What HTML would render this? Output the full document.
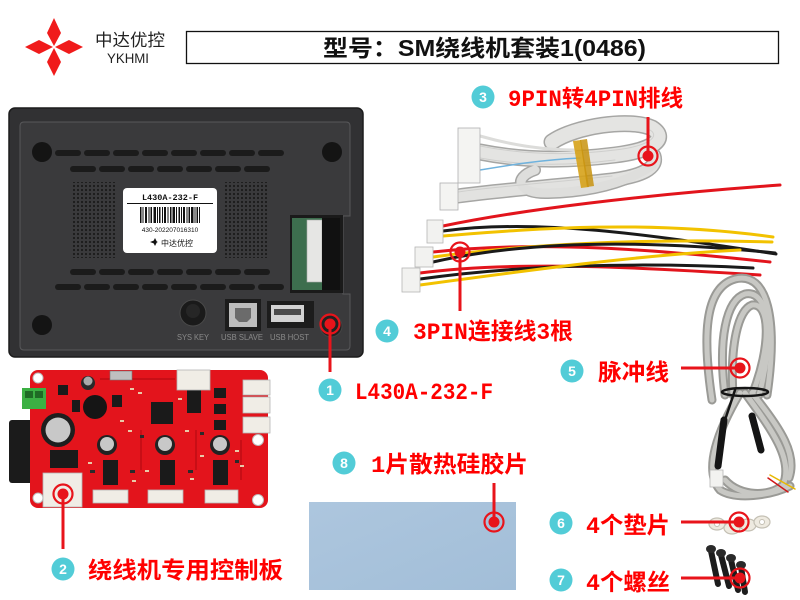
<!DOCTYPE html>
<html><head><meta charset="utf-8"><style>
html,body{margin:0;padding:0;background:#fff;width:800px;height:600px;overflow:hidden}
svg{display:block}
</style></head><body>
<svg width="800" height="600" viewBox="0 0 800 600" xmlns="http://www.w3.org/2000/svg">
<defs>
<pattern id="dots" width="4" height="4" patternUnits="userSpaceOnUse"><rect width="4" height="4" fill="#3a3a3c"/><circle cx="2" cy="2" r="1.1" fill="#1a1a1a"/></pattern>
<linearGradient id="pad" x1="0" y1="0" x2="1" y2="1"><stop offset="0" stop-color="#adc6de"/><stop offset="1" stop-color="#a2bed8"/></linearGradient>
</defs>
<rect width="800" height="600" fill="#fff"/>

<!-- Logo -->
<g fill="#f01b1b">
<polygon points="54,18 61,33 54,46 47,33"/>
<polygon points="54,48 61,62 54,76 47,62"/>
<polygon points="25,47 39,40 53,47 39,54"/>
<polygon points="55,47 69,40 83,47 69,54"/>
</g>
<text x="95" y="46" font-family="'Liberation Sans','Noto Sans CJK SC',sans-serif" font-size="17" fill="#222" textLength="70" lengthAdjust="spacingAndGlyphs">中达优控</text>
<text x="107" y="63" font-family="'Liberation Sans',sans-serif" font-size="14" fill="#222" textLength="42" lengthAdjust="spacingAndGlyphs">YKHMI</text>

<!-- Title box -->
<rect x="186.5" y="31.5" width="592" height="32" fill="#fff" stroke="#111" stroke-width="1.3"/>
<text x="323" y="56" font-family="'Liberation Sans','Noto Sans CJK SC',sans-serif" font-weight="bold" font-size="23" fill="#111" textLength="323" lengthAdjust="spacingAndGlyphs">型号：SM绕线机套装1(0486)</text>

<!-- Device -->
<rect x="9" y="108" width="354" height="249" rx="6" fill="#313133" stroke="#1c1c1c" stroke-width="1.5"/>
<path d="M24,122 H346 Q350,122 350,126 V216 H343 V294 H350 V346 Q350,350 346,350 H24 Q20,350 20,346 V126 Q20,122 24,122 Z" fill="#3a3a3c" stroke="#58585a" stroke-width="1"/>
<circle cx="42" cy="152" r="10" fill="#141414"/>
<circle cx="332" cy="152" r="10" fill="#141414"/>
<circle cx="42" cy="325" r="10" fill="#141414"/>
<g fill="#1b1b1b">
<rect x="55" y="150" width="26" height="6" rx="3"/><rect x="84" y="150" width="26" height="6" rx="3"/><rect x="113" y="150" width="26" height="6" rx="3"/><rect x="142" y="150" width="26" height="6" rx="3"/><rect x="171" y="150" width="26" height="6" rx="3"/><rect x="200" y="150" width="26" height="6" rx="3"/><rect x="229" y="150" width="26" height="6" rx="3"/><rect x="258" y="150" width="26" height="6" rx="3"/>
<rect x="70" y="166" width="26" height="6" rx="3"/><rect x="99" y="166" width="26" height="6" rx="3"/><rect x="128" y="166" width="26" height="6" rx="3"/><rect x="157" y="166" width="26" height="6" rx="3"/><rect x="186" y="166" width="26" height="6" rx="3"/><rect x="215" y="166" width="26" height="6" rx="3"/><rect x="244" y="166" width="26" height="6" rx="3"/>
<rect x="70" y="269" width="26" height="6" rx="3"/><rect x="99" y="269" width="26" height="6" rx="3"/><rect x="128" y="269" width="26" height="6" rx="3"/><rect x="157" y="269" width="26" height="6" rx="3"/><rect x="186" y="269" width="26" height="6" rx="3"/><rect x="215" y="269" width="26" height="6" rx="3"/><rect x="244" y="269" width="26" height="6" rx="3"/>
<rect x="55" y="284" width="26" height="6" rx="3"/><rect x="84" y="284" width="26" height="6" rx="3"/><rect x="113" y="284" width="26" height="6" rx="3"/><rect x="142" y="284" width="26" height="6" rx="3"/><rect x="171" y="284" width="26" height="6" rx="3"/><rect x="200" y="284" width="26" height="6" rx="3"/><rect x="229" y="284" width="26" height="6" rx="3"/><rect x="258" y="284" width="26" height="6" rx="3"/>
</g>
<rect x="73" y="182" width="43" height="76" fill="url(#dots)"/>
<rect x="225" y="182" width="43" height="76" fill="url(#dots)"/>
<!-- connector cutout -->
<rect x="290" y="215" width="53" height="78" fill="#1a1a1a"/>
<rect x="292" y="218" width="30" height="72" fill="#3d6e4e"/>
<rect x="307" y="220" width="15" height="62" fill="#e6e6e4" stroke="#aaa" stroke-width="0.6"/>
<rect x="322" y="218" width="18" height="72" fill="#111"/>
<!-- label -->
<rect x="123" y="188" width="94" height="65" rx="4" fill="#fff"/>
<text x="170" y="200" text-anchor="middle" font-family="'Liberation Mono',monospace" font-weight="bold" font-size="8.5" fill="#111">L430A-232-F</text>
<line x1="127" y1="203.5" x2="213" y2="203.5" stroke="#111" stroke-width="1"/>
<g fill="#111">
<rect x="140" y="207" width="1.5" height="16"/><rect x="142.5" y="207" width="1" height="16"/><rect x="145" y="207" width="2" height="16"/><rect x="148.5" y="207" width="1" height="16"/><rect x="150.5" y="207" width="1.5" height="16"/><rect x="153.5" y="207" width="2.5" height="16"/><rect x="157" y="207" width="1" height="16"/><rect x="159" y="207" width="1.5" height="16"/><rect x="162" y="207" width="1" height="16"/><rect x="164" y="207" width="2" height="16"/><rect x="167.5" y="207" width="1" height="16"/><rect x="170" y="207" width="1.5" height="16"/><rect x="172.5" y="207" width="2.5" height="16"/><rect x="176" y="207" width="1" height="16"/><rect x="178.5" y="207" width="1.5" height="16"/><rect x="181" y="207" width="1" height="16"/><rect x="183" y="207" width="2" height="16"/><rect x="186.5" y="207" width="1" height="16"/><rect x="188.5" y="207" width="1.5" height="16"/><rect x="191" y="207" width="2.5" height="16"/><rect x="194.5" y="207" width="1" height="16"/><rect x="196.5" y="207" width="1.5" height="16"/><rect x="199" y="207" width="1" height="16"/>
</g>
<text x="170" y="232" text-anchor="middle" font-family="'Liberation Sans',sans-serif" font-size="6.5" fill="#111">430-202207016310</text>
<g fill="#111"><polygon points="155,238 157,242 155,246 153,242"/><polygon points="150,242 154,240.5 158,242 154,243.5" /></g>
<text x="161" y="246" font-family="'Liberation Sans','Noto Sans CJK SC',sans-serif" font-size="8" fill="#111">中达优控</text>
<!-- bottom ports -->
<circle cx="193" cy="313" r="13" fill="#1a1a1a" stroke="#4a4a4a" stroke-width="1"/>
<circle cx="193" cy="311" r="7" fill="#262626"/>
<rect x="225" y="299" width="36" height="32" fill="#1c1c1c"/>
<rect x="229" y="303" width="28" height="24" fill="#bdbdbd"/>
<path d="M235,308 H251 V318 L247,322 H239 L235,318 Z" fill="#6b6b6b"/>
<rect x="267" y="301" width="47" height="27" fill="#1c1c1c"/>
<rect x="271" y="305" width="33" height="17" fill="#d2d2d2"/>
<rect x="274" y="309" width="27" height="6" fill="#4a4a4a"/>
<g font-family="'Liberation Sans',sans-serif" font-size="8" fill="#8a8a8a">
<text x="177" y="340" textLength="32" lengthAdjust="spacingAndGlyphs">SYS KEY</text>
<text x="221" y="340" textLength="42" lengthAdjust="spacingAndGlyphs">USB SLAVE</text>
<text x="270" y="340" textLength="39" lengthAdjust="spacingAndGlyphs">USB HOST</text>
</g>
<circle cx="331" cy="326" r="11" fill="#222" stroke="#444"/>

<!-- PCB board -->
<rect x="9" y="420" width="25" height="63" rx="3" fill="#1b1b1b"/>
<rect x="30" y="370" width="238" height="138" rx="8" fill="#e3141c"/>
<g fill="#c80e16">
<rect x="100" y="378" width="75" height="2"/><rect x="140" y="430" width="2" height="40"/><rect x="195" y="430" width="2" height="40"/><rect x="240" y="440" width="2" height="40"/>
</g>
<rect x="22" y="388" width="24" height="21" fill="#3cb043"/>
<rect x="25" y="391" width="8" height="7" fill="#1f6b25"/><rect x="35" y="391" width="8" height="7" fill="#1f6b25"/>
<g fill="#fff" stroke="#bdbdbd">
<circle cx="38" cy="378" r="5"/><circle cx="258" cy="440" r="5.5"/><circle cx="258" cy="500" r="5.5"/><circle cx="38" cy="498" r="5"/>
</g>
<circle cx="58" cy="430" r="17" fill="#1e1e1e"/><circle cx="58" cy="430" r="12.5" fill="#c8c8c8"/>
<circle cx="95" cy="407" r="12" fill="#151515"/>
<circle cx="88" cy="383" r="7" fill="#2a2a2a"/><circle cx="88" cy="381" r="4.5" fill="#aaa"/>
<g><circle cx="107" cy="445" r="10" fill="#222"/><circle cx="107" cy="444" r="7" fill="#c8c8c8"/>
<circle cx="165" cy="445" r="10" fill="#222"/><circle cx="165" cy="444" r="7" fill="#c8c8c8"/>
<circle cx="220" cy="445" r="10" fill="#222"/><circle cx="220" cy="444" r="7" fill="#c8c8c8"/></g>
<g fill="#1a1a1a">
<rect x="103" y="460" width="15" height="25"/><rect x="160" y="460" width="15" height="25"/><rect x="213" y="460" width="15" height="25"/>
<rect x="151" y="402" width="22" height="22"/><rect x="50" y="450" width="28" height="18"/>
<rect x="187" y="385" width="14" height="28"/><rect x="214" y="388" width="12" height="10"/><rect x="214" y="404" width="12" height="10"/><rect x="214" y="420" width="12" height="10"/>
<rect x="58" y="385" width="10" height="10"/><rect x="112" y="395" width="10" height="12"/><rect x="72" y="400" width="8" height="12"/>
</g>
<rect x="110" y="371" width="22" height="9" fill="#bfbfbf" stroke="#777" stroke-width="0.6"/>
<g fill="#e9c9a8">
<rect x="130" y="388" width="4" height="2"/><rect x="138" y="392" width="4" height="2"/><rect x="178" y="398" width="4" height="2"/><rect x="120" y="420" width="4" height="2"/><rect x="128" y="430" width="4" height="2"/><rect x="185" y="430" width="4" height="2"/><rect x="200" y="455" width="4" height="2"/><rect x="235" y="450" width="4" height="2"/><rect x="145" y="470" width="4" height="2"/><rect x="88" y="462" width="4" height="2"/><rect x="240" y="465" width="4" height="2"/><rect x="132" y="480" width="4" height="2"/><rect x="190" y="478" width="4" height="2"/>
</g>
<g fill="#f0ede6" stroke="#b5b5b5" stroke-width="0.8">
<rect x="93" y="490" width="35" height="13"/><rect x="148" y="490" width="35" height="13"/><rect x="205" y="490" width="33" height="13"/>
<rect x="43" y="473" width="39" height="34"/><rect x="243" y="380" width="27" height="15"/><rect x="243" y="397" width="27" height="16"/><rect x="243" y="417" width="27" height="16"/><rect x="177" y="370" width="33" height="20"/>
</g>
<g fill="#2a2a2a">
<rect x="90" y="470" width="5" height="3"/><rect x="130" y="470" width="5" height="3"/><rect x="188" y="470" width="5" height="3"/><rect x="140" y="435" width="4" height="3"/><rect x="235" y="460" width="4" height="3"/><rect x="200" y="432" width="4" height="3"/>
</g>

<!-- Ribbon cable (3) -->
<g fill="none" stroke-linecap="round">
<path d="M480,152 C530,162 575,160 615,155 C655,150 668,138 652,128 C630,118 575,126 552,142" stroke="#a6a6a4" stroke-width="17"/>
<path d="M458,196 C500,190 560,186 612,180 C642,176 658,168 654,156" stroke="#a6a6a4" stroke-width="15"/>
<path d="M535,170 C512,178 518,194 548,193 C585,192 622,185 652,166" stroke="#a6a6a4" stroke-width="12"/>
<path d="M480,152 C530,162 575,160 615,155 C655,150 668,138 652,128 C630,118 575,126 552,142" stroke="#e4e4e2" stroke-width="14"/>
<path d="M458,196 C500,190 560,186 612,180 C642,176 658,168 654,156" stroke="#e2e2e0" stroke-width="12"/>
<path d="M535,170 C512,178 518,194 548,193 C585,192 622,185 652,166" stroke="#dededc" stroke-width="9"/>
<path d="M480,146 C530,156 575,155 615,150 C650,146 660,136 650,130" stroke="#cfcfcd" stroke-width="1"/>
<path d="M480,158 C530,167 575,165 615,160" stroke="#cfcfcd" stroke-width="1"/>
<path d="M458,192 C500,186 560,182 612,176" stroke="#cfcfcd" stroke-width="1"/>
<path d="M480,170 C510,165 540,160 580,158" stroke="#6fb2dd" stroke-width="1.5"/>
<path d="M480,136 C515,146 545,150 575,150" stroke="#dcdcda" stroke-width="3"/>
</g>
<rect x="458" y="128" width="22" height="55" fill="#f4f4f2" stroke="#b0b0b0" stroke-width="0.8"/>
<rect x="440" y="183" width="18" height="27" fill="#f4f4f2" stroke="#b0b0b0" stroke-width="0.8"/>
<path d="M573,141 L581,140 L589,187 L581,188 Z" fill="#d6a21a" opacity="0.9"/>
<path d="M580,140 L587,139 L594,186 L587,187 Z" fill="#c8930f" opacity="0.85"/>

<!-- 3PIN wires (4) -->
<g fill="none" stroke-width="3" stroke-linecap="round">
<path d="M443,226 C520,210 640,195 780,185" stroke="#e2141c"/>
<path d="M443,231 C540,218 650,235 776,254" stroke="#1a1a1a"/>
<path d="M443,236 C540,228 650,220 773,237" stroke="#f2c200"/>
<path d="M433,252 C540,240 660,250 770,262" stroke="#e2141c"/>
<path d="M433,257 C520,245 640,238 772,242" stroke="#f2c200"/>
<path d="M433,262 C530,240 650,240 775,253" stroke="#1a1a1a"/>
<path d="M420,273 C520,260 650,268 760,275" stroke="#e2141c"/>
<path d="M420,279 C520,265 640,262 753,268" stroke="#1a1a1a"/>
<path d="M420,285 C530,270 640,255 740,250" stroke="#f2c200"/>
</g>
<g fill="#f2f2f0" stroke="#b5b5b5" stroke-width="0.8">
<rect x="427" y="220" width="16" height="23"/>
<rect x="415" y="247" width="18" height="20"/>
<rect x="402" y="268" width="18" height="24"/>
</g>

<!-- Pulse cable (5) -->
<g fill="none" stroke-linecap="round">
<g stroke="#9a9a96" stroke-width="9">
<path d="M712,400 C703,340 703,288 735,279 C768,271 778,320 767,395"/>
<path d="M725,395 C718,340 726,300 745,294 C770,289 774,340 759,395"/>
<path d="M733,395 C730,345 738,310 752,305 C770,302 772,345 752,395"/>
<path d="M740,393 C718,430 703,470 720,490 C735,500 770,496 790,486"/>
<path d="M745,393 C772,430 794,460 783,485 C770,497 740,497 725,480"/>
<path d="M752,393 C782,430 797,455 789,478"/>
</g>
<g stroke="#c8c8c4" stroke-width="5">
<path d="M712,400 C703,340 703,288 735,279 C768,271 778,320 767,395"/>
<path d="M725,395 C718,340 726,300 745,294 C770,289 774,340 759,395"/>
<path d="M733,395 C730,345 738,310 752,305 C770,302 772,345 752,395"/>
<path d="M740,393 C718,430 703,470 720,490 C735,500 770,496 790,486"/>
<path d="M745,393 C772,430 794,460 783,485 C770,497 740,497 725,480"/>
<path d="M752,393 C782,430 797,455 789,478"/>
</g>
<path d="M724,420 L718,466" stroke="#151515" stroke-width="7"/>
<path d="M752,416 L761,450" stroke="#151515" stroke-width="7"/>
<path d="M735,390 L726,417" stroke="#151515" stroke-width="2.5"/>
<ellipse cx="745" cy="392" rx="23" ry="4" stroke="#151515" stroke-width="2.5"/>
<path d="M770,475 L795,489" stroke="#e8b800" stroke-width="1.5"/>
<path d="M768,478 L788,492" stroke="#d01818" stroke-width="1.5"/>
</g>
<rect x="710" y="470" width="13" height="17" fill="#f2f2f0" stroke="#b5b5b5" stroke-width="0.8"/>

<!-- Washers (6) -->
<g fill="#eeeae0" stroke="#c4c0b4" stroke-width="1.2">
<ellipse cx="717" cy="524" rx="8" ry="6"/><ellipse cx="732" cy="528" rx="8" ry="6"/><ellipse cx="748" cy="525" rx="8" ry="6"/><ellipse cx="762" cy="522" rx="8" ry="6"/>
</g>
<g fill="#fff" stroke="#c4c0b4"><circle cx="717" cy="524" r="2.5"/><circle cx="762" cy="522" r="2.5"/></g>

<!-- Screws (7) -->
<g stroke="#1c1c1c" stroke-linecap="round">
<path d="M711,551 L718,584" stroke-width="6"/>
<path d="M721,555 L729,586" stroke-width="6"/>
<path d="M731,560 L738,590" stroke-width="6"/>
<path d="M741,567 L745,592" stroke-width="6"/>
</g>
<g fill="#2a2a2a"><ellipse cx="711" cy="549" rx="5" ry="4"/><ellipse cx="721" cy="553" rx="5" ry="4"/><ellipse cx="731" cy="558" rx="5" ry="4"/><ellipse cx="741" cy="565" rx="5" ry="4"/></g>

<!-- Silicone pad (8) -->
<rect x="309" y="502" width="207" height="88" fill="url(#pad)"/>

<!-- Leader lines & markers -->
<g stroke="#e8141b" stroke-width="3" fill="none">
<line x1="330" y1="326" x2="330" y2="372"/>
<line x1="63" y1="494" x2="63" y2="549"/>
<line x1="648" y1="117" x2="648" y2="156"/>
<line x1="460" y1="252" x2="460" y2="311"/>
<line x1="681" y1="368" x2="740" y2="368"/>
<line x1="681" y1="522" x2="739" y2="522"/>
<line x1="681" y1="578" x2="740" y2="578"/>
<line x1="494" y1="483" x2="494" y2="522"/>
</g>
<g stroke="#e8141b" stroke-width="2.2" fill="none">
<circle cx="330" cy="324" r="9.5"/><circle cx="63" cy="494" r="9.5"/><circle cx="648" cy="156" r="9.5"/><circle cx="460" cy="252" r="9.5"/>
<circle cx="740" cy="368" r="9.5"/><circle cx="739" cy="522" r="9.5"/><circle cx="740" cy="578" r="9.5"/><circle cx="494" cy="522" r="9.5"/>
</g>
<g fill="#e8141b">
<circle cx="330" cy="324" r="5.5"/><circle cx="63" cy="494" r="5.5"/><circle cx="648" cy="156" r="5.5"/><circle cx="460" cy="252" r="5.5"/>
<circle cx="740" cy="368" r="5.5"/><circle cx="739" cy="522" r="5.5"/><circle cx="740" cy="578" r="5.5"/><circle cx="494" cy="522" r="5.5"/>
</g>

<!-- Number badges -->
<g fill="#52ccd7">
<circle cx="330" cy="390" r="11.5"/><circle cx="63" cy="569" r="11.5"/><circle cx="483" cy="97" r="11.5"/><circle cx="387" cy="331" r="11.5"/>
<circle cx="572" cy="371" r="11.5"/><circle cx="561" cy="523" r="11.5"/><circle cx="561" cy="580" r="11.5"/><circle cx="344" cy="463" r="11.5"/>
</g>
<g fill="#fff" font-family="'Liberation Sans',sans-serif" font-weight="bold" font-size="14" text-anchor="middle">
<text x="330" y="395">1</text><text x="63" y="574">2</text><text x="483" y="102">3</text><text x="387" y="336">4</text>
<text x="572" y="376">5</text><text x="561" y="528">6</text><text x="561" y="585">7</text><text x="344" y="468">8</text>
</g>

<!-- Red labels -->
<g fill="#ff0000" font-family="'Liberation Mono','Noto Sans CJK SC',monospace" font-weight="bold" font-size="23">
<text x="355" y="399" textLength="138" lengthAdjust="spacingAndGlyphs">L430A-232-F</text>
<text x="88" y="578" textLength="195" lengthAdjust="spacingAndGlyphs">绕线机专用控制板</text>
<text x="508" y="106" textLength="175" lengthAdjust="spacingAndGlyphs">9PIN转4PIN排线</text>
<text x="413" y="339" textLength="160" lengthAdjust="spacingAndGlyphs">3PIN连接线3根</text>
<text x="598" y="380" textLength="71" lengthAdjust="spacingAndGlyphs">脉冲线</text>
<text x="586" y="533" textLength="84" lengthAdjust="spacingAndGlyphs">4个垫片</text>
<text x="586" y="590" textLength="84" lengthAdjust="spacingAndGlyphs">4个螺丝</text>
<text x="371" y="472" textLength="157" lengthAdjust="spacingAndGlyphs">1片散热硅胶片</text>
</g>
</svg>
</body></html>
